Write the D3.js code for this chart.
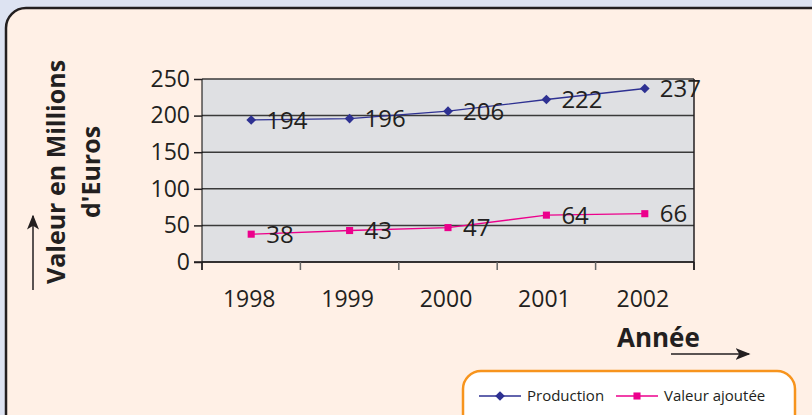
<!doctype html>
<html lang="fr">
  <head>
    <meta charset="utf-8">
    <script src="https://cdn.jsdelivr.net/npm/d3@7"></script>
    <style>
      body {margin:0; background:#dde3f2}
      svg {display:block}
      text {font-family:"Open Sans", sans-serif; fill:#231f20}
    </style>
  </head>
  <body>
    <script>
      let years = ["1998","1999","2000","2001","2002"];
      let production = [194,196,206,222,237];
      let valeurAjoutee = [38,43,47,64,66];
      let yTicks = [0,50,100,150,200,250];

      let W = 812, H = 415;
      let margin = {top:79, left:202, right:118, bottom:153};
      let w = W-margin.left-margin.right;
      let h = H-margin.top-margin.bottom;

      let svg = d3.select("body").append("svg")
        .attr("width", W)
        .attr("height", H);

      let defs = svg.append("defs");
      defs.append("marker")
        .attr("id","arrow")
        .attr("viewBox","0 0 10 10")
        .attr("refX",9).attr("refY",5)
        .attr("markerWidth",15).attr("markerHeight",15)
        .attr("markerUnits","userSpaceOnUse")
        .attr("orient","auto")
        .append("path")
        .attr("d","M0,1 L10,5 L0,9 L2.5,5 Z")
        .attr("fill","#231f20");

      // panel
      svg.append("rect")
        .attr("x",6).attr("y",8)
        .attr("width",W+20).attr("height",H+20)
        .attr("rx",20)
        .attr("fill","#fff0e6")
        .attr("stroke","#231f20")
        .attr("stroke-width",2.5);

      let x = d3.scaleBand().domain(years).range([0,w]);
      let y = d3.scaleLinear().domain([0,250]).range([h,0]);

      let g = svg.append("g")
        .attr("transform","translate(" + margin.left + "," + margin.top + ")");

      g.append("rect")
        .attr("width",w).attr("height",h)
        .attr("fill","#dfe0e3");

      // grid
      g.selectAll(".grid")
        .data(yTicks)
        .enter()
        .append("line")
        .attr("x1",0).attr("x2",w)
        .attr("y1",d=>y(d)).attr("y2",d=>y(d))
        .attr("stroke","#3a3a3a")
        .attr("stroke-width",1.5);

      let yAxis = d3.axisLeft(y).tickValues(yTicks).tickSize(8).tickPadding(4);
      let gy = g.append("g").call(yAxis);
      gy.select(".domain").attr("d","M0,0 V" + (h+8));
      gy.selectAll("line").attr("stroke","#231f20").attr("stroke-width",1.5);
      gy.selectAll("text").attr("font-size","23px").attr("fill","#231f20");

      let xb = d3.scaleLinear().domain([0,5]).range([0,w]);
      let gx = g.append("g").attr("transform","translate(0," + h + ")");
      gx.append("line").attr("x1",-8).attr("x2",w).attr("stroke","#231f20").attr("stroke-width",1.5);
      gx.selectAll(".tk")
        .data(d3.range(6))
        .enter()
        .append("line")
        .attr("x1",d=>xb(d)).attr("x2",d=>xb(d))
        .attr("y1",0).attr("y2",8)
        .attr("stroke",(d)=> d==0||d==5 ? "#231f20" : "#666")
        .attr("stroke-width",1.5);
      g.append("line")
        .attr("x1",w).attr("x2",w).attr("y1",0).attr("y2",h+8)
        .attr("stroke","#231f20").attr("stroke-width",1.5);
      gx.selectAll(".yr")
        .data(years)
        .enter()
        .append("text")
        .attr("x",d=>x(d)+x.bandwidth()/2-2)
        .attr("y",45)
        .attr("text-anchor","middle")
        .attr("font-size","23px")
        .text(d=>d);

      let series = [
        {name:"Production", values:production, color:"#2e3192", shape:d3.symbolDiamond2, size:60},
        {name:"Valeur ajoutée", values:valeurAjoutee, color:"#ec008c", shape:d3.symbolSquare2, size:64}
      ];

      let line = d3.line()
        .x((d,i)=>x(years[i])+x.bandwidth()/2)
        .y(d=>y(d));

      series.forEach(function(s){
        g.append("path")
          .attr("d",line(s.values))
          .attr("fill","none")
          .attr("stroke",s.color)
          .attr("stroke-width",1.3);
        g.selectAll(null)
          .data(s.values)
          .enter()
          .append("path")
          .attr("transform",(d,i)=>"translate(" + (x(years[i])+x.bandwidth()/2) + "," + y(d) + ")")
          .attr("d",d3.symbol().type(s.shape).size(s.size))
          .attr("fill",s.color);
        g.selectAll(null)
          .data(s.values)
          .enter()
          .append("text")
          .attr("x",(d,i)=>x(years[i])+x.bandwidth()/2+15)
          .attr("y",d=>y(d))
          .attr("dy","0.36em")
          .attr("font-size","24px")
          .text(d=>d);
      });

      // y title
      svg.append("text")
        .attr("transform","translate(65,172) rotate(-90)")
        .attr("text-anchor","middle")
        .attr("font-weight","bold")
        .attr("font-size","25px")
        .text("Valeur en Millions");
      svg.append("text")
        .attr("transform","translate(100,172) rotate(-90)")
        .attr("text-anchor","middle")
        .attr("font-weight","bold")
        .attr("font-size","25px")
        .text("d'Euros");
      svg.append("line")
        .attr("x1",33).attr("x2",33).attr("y1",290).attr("y2",216)
        .attr("stroke","#231f20").attr("stroke-width",1.5)
        .attr("marker-end","url(#arrow)");

      // x title
      svg.append("text")
        .attr("x",617).attr("y",347)
        .attr("font-weight","bold")
        .attr("font-size","26px")
        .text("Année");
      svg.append("line")
        .attr("x1",671).attr("x2",749).attr("y1",354).attr("y2",354)
        .attr("stroke","#231f20").attr("stroke-width",1.5)
        .attr("marker-end","url(#arrow)");

      // legend
      let lg = svg.append("g");
      lg.append("rect")
        .attr("x",463).attr("y",371)
        .attr("width",332).attr("height",80)
        .attr("rx",18)
        .attr("fill","#ffffff")
        .attr("stroke","#f7941d")
        .attr("stroke-width",2.5);
      let lx = [479, 616];
      series.forEach(function(s,i){
        lg.append("line")
          .attr("x1",lx[i]).attr("x2",lx[i]+42)
          .attr("y1",396).attr("y2",396)
          .attr("stroke",s.color).attr("stroke-width",1.3);
        lg.append("path")
          .attr("transform","translate(" + (lx[i]+21) + ",396)")
          .attr("d",d3.symbol().type(s.shape).size(s.size))
          .attr("fill",s.color);
        lg.append("text")
          .attr("x",lx[i]+48).attr("y",396)
          .attr("dy","0.35em")
          .attr("font-size","15px")
          .text(s.name);
      });
    </script>
  </body>
</html>
